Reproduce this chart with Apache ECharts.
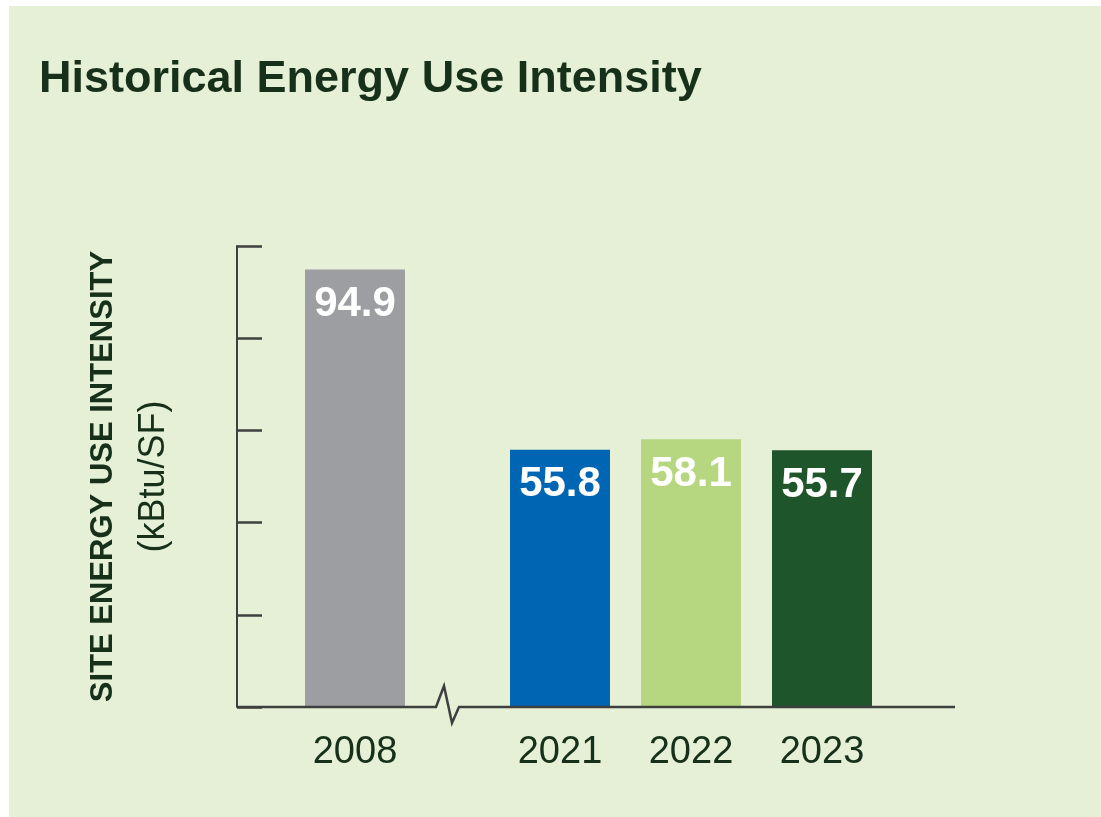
<!DOCTYPE html>
<html>
<head>
<meta charset="utf-8">
<title>Historical Energy Use Intensity</title>
<script src="https://cdn.jsdelivr.net/npm/echarts@6/dist/echarts.min.js"></script>
<style>
  html, body { margin: 0; padding: 0; background: #ffffff; }
  #chart { width: 1101px; height: 817px; }
</style>
</head>
<body>
<div id="chart"></div>
<script>
// Baseline year, drawn left of the axis break
const baselineYears = ['2008'];
const baselineValues = [94.9];

// Recent years, drawn right of the axis break
const recentYears = ['2021', '2022', '2023'];
const recentValues = [55.8, 58.1, 55.7];

// Value axis range (ticks only, no tick labels)
const yMin = 0;
const yMax = 100;
const yInterval = 20;

const barColors = {
  '2008': '#9d9ea2',
  '2021': '#0066b3',
  '2022': '#b6d780',
  '2023': '#1e552a'
};

const FONT = "'Liberation Sans', Arial, Helvetica, sans-serif";
const DARK = '#17301a';
const AXIS = '#3e403f';

// plot frame shared by both grids
const plotTop = 246;
const plotBottom = 707;
const plotHeight = plotBottom - plotTop;
const axisLeft = 237;
const axisRight = 955;
const breakStart = 436;

function toBars(years, values) {
  return values.map((v, i) => ({
    value: v,
    itemStyle: { color: barColors[years[i]] }
  }));
}

const barLabel = {
  show: true,
  position: 'insideTop',
  distance: 14,
  color: '#ffffff',
  fontFamily: FONT,
  fontSize: 42,
  fontWeight: 'bold',
  formatter: p => p.value.toFixed(1)
};

const xLabel = {
  color: DARK,
  fontFamily: FONT,
  fontSize: 38,
  margin: 27
};

const chart = echarts.init(document.getElementById('chart'), null, { renderer: 'canvas' });

chart.setOption({
  animation: false,
  backgroundColor: 'transparent',
  title: {
    text: 'Historical Energy Use Intensity',
    left: 34,
    top: 52,
    textStyle: {
      color: DARK,
      fontFamily: FONT,
      fontSize: 45,
      fontWeight: 'bold'
    }
  },
  grid: [
    { left: axisLeft, width: 236, top: plotTop, height: plotHeight },
    { left: 494.5, width: 393, top: plotTop, height: plotHeight }
  ],
  xAxis: [
    {
      gridIndex: 0, type: 'category', data: baselineYears,
      axisLine: { show: false }, axisTick: { show: false },
      axisLabel: xLabel
    },
    {
      gridIndex: 1, type: 'category', data: recentYears,
      axisLine: { show: false }, axisTick: { show: false },
      axisLabel: xLabel
    }
  ],
  yAxis: [
    {
      gridIndex: 0, type: 'value', min: yMin, max: yMax, interval: yInterval,
      axisLine: { show: true, lineStyle: { color: AXIS, width: 2 } },
      axisTick: { show: true, inside: true, length: 25, lineStyle: { color: AXIS, width: 2.5 } },
      axisLabel: { show: false },
      splitLine: { show: false },
      name: '{t|SITE ENERGY USE INTENSITY}\n{u|(kBtu/SF)}',
      nameLocation: 'middle',
      nameRotate: 90,
      nameGap: 57,
      nameTextStyle: {
        rich: {
          t: { fontFamily: FONT, fontSize: 31, fontWeight: 'bold', color: DARK, lineHeight: 51 },
          u: { fontFamily: FONT, fontSize: 36, color: DARK, lineHeight: 51 }
        }
      }
    },
    {
      gridIndex: 1, type: 'value', min: yMin, max: yMax, interval: yInterval,
      show: false
    }
  ],
  series: [
    {
      type: 'bar', xAxisIndex: 0, yAxisIndex: 0,
      barWidth: 100,
      data: toBars(baselineYears, baselineValues),
      label: barLabel
    },
    {
      type: 'bar', xAxisIndex: 1, yAxisIndex: 1,
      barWidth: 100,
      data: toBars(recentYears, recentValues),
      label: barLabel
    }
  ],
  graphic: [
    {
      type: 'rect', z: -100, silent: true,
      shape: { x: 9, y: 6, width: 1092, height: 811 },
      style: { fill: '#e6f0d6' }
    },
    {
      // category baseline with the zigzag break between 2008 and 2021
      type: 'polyline', z: 100, silent: true,
      shape: {
        points: [
          [axisLeft, plotBottom],
          [breakStart, plotBottom],
          [breakStart + 8, plotBottom - 21],
          [breakStart + 16, plotBottom + 16],
          [breakStart + 23, plotBottom],
          [axisRight, plotBottom]
        ]
      },
      style: { stroke: AXIS, lineWidth: 2.5, fill: null, lineJoin: 'miter' }
    }
  ]
});
</script>
</body>
</html>
